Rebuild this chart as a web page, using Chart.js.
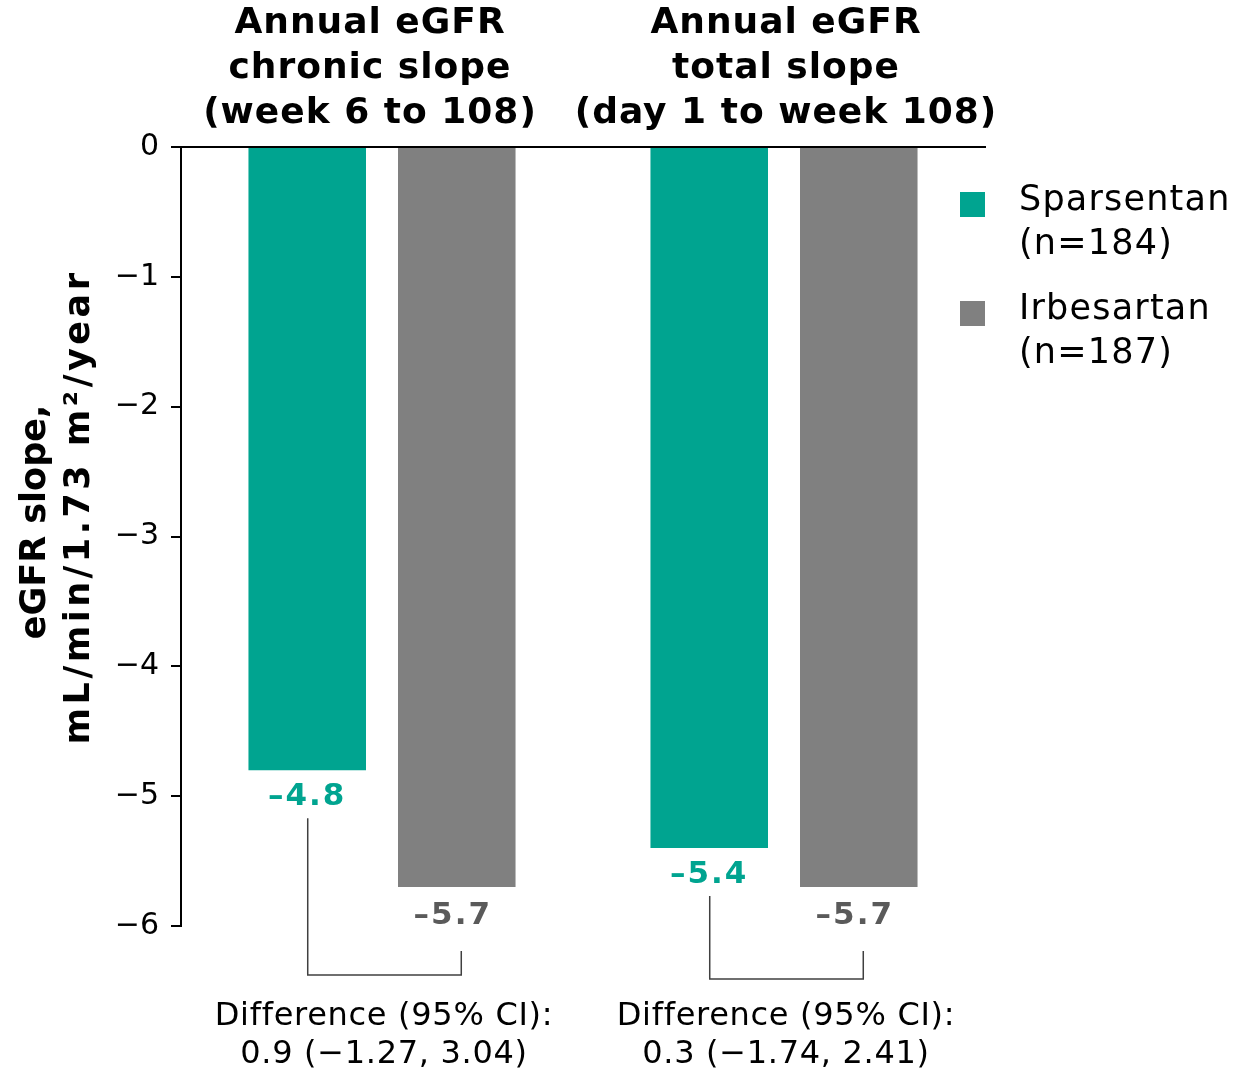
<!DOCTYPE html>
<html lang="en">
  <head>
    <meta charset="UTF-8" />
    <title>Annual eGFR slope</title>
    <script src="https://cdn.jsdelivr.net/npm/chart.js"></script>
    <style>
      html, body { margin: 0; padding: 0; background: #fff; }
      #wrap { width: 1235px; height: 1075px; position: relative; }
    </style>
  </head>
  <body>
    <div id="wrap"><canvas id="slopeChart"></canvas></div>
    <script>
      // data
      const categories = ["chronic", "total"];
      const groupTitles = [
        ["Annual eGFR", "chronic slope", "(week 6 to 108)"],
        ["Annual eGFR", "total slope", "(day 1 to week 108)"],
      ];
      const sparsentan = [-4.8, -5.4];
      const irbesartan = [-5.7, -5.7];
      const seriesNames = [["Sparsentan", "(n=184)"], ["Irbesartan", "(n=187)"]];
      const differences = [
        ["Difference (95% CI):", "0.9 (\u22121.27, 3.04)"],
        ["Difference (95% CI):", "0.3 (\u22121.74, 2.41)"],
      ];
      const yTitle = ["eGFR slope,", "mL/min/1.73 m\u00B2/year"];

      const TEAL = "#00a490";
      const GREY = "#808080";
      const GREY_TXT = "#5a5a5a";
      const FONT = "'DejaVu Sans', Verdana, sans-serif";

      const fmt = (v) => "\u2013" + Math.abs(v).toFixed(1);

      // everything the library doesn't draw itself
      const extras = {
        id: "extras",
        afterDatasetsDraw(chart) {
          const { ctx } = chart;
          const m0 = chart.getDatasetMeta(0).data;
          const m1 = chart.getDatasetMeta(1).data;
          ctx.save();
          ctx.textAlign = "center";
          ctx.textBaseline = "middle";

          // value labels
          ctx.font = "bold 31px " + FONT;
          ctx.letterSpacing = "2px";
          m0.forEach((b, i) => {
            ctx.fillStyle = TEAL;
            ctx.fillText(fmt(sparsentan[i]), b.x, b.y + 27);
          });
          m1.forEach((b, i) => {
            ctx.fillStyle = GREY_TXT;
            ctx.fillText(fmt(irbesartan[i]), b.x - 4, b.y + 29);
          });

          // brackets
          ctx.strokeStyle = "#404040";
          ctx.lineWidth = 1.5;
          m0.forEach((b, i) => {
            const b2 = m1[i];
            const yTop1 = b.y + 48;
            const yTop2 = b2.y + 64;
            const yBot = i === 0 ? 975 : 979;
            ctx.beginPath();
            ctx.moveTo(b.x + 0.5, yTop1);
            ctx.lineTo(b.x + 0.5, yBot);
            ctx.lineTo(b2.x + 4.5, yBot);
            ctx.lineTo(b2.x + 4.5, yTop2);
            ctx.stroke();
          });

          // difference text
          ctx.fillStyle = "#000";
          ctx.font = "32px " + FONT;
          ctx.letterSpacing = "0.7px";
          m0.forEach((b, i) => {
            const cx = (b.x + m1[i].x) / 2 + 2;
            ctx.fillText(differences[i][0], cx, 1017);
            ctx.fillText(differences[i][1], cx, 1055);
          });

          // group titles
          ctx.font = "bold 36px " + FONT;
          ctx.letterSpacing = "1px";
          m0.forEach((b, i) => {
            const cx = (b.x + m1[i].x) / 2 + (i === 0 ? -12 : 2);
            groupTitles[i].forEach((t, k) => ctx.fillText(t, cx, 24 + k * 45));
          });

          // y title
          ctx.save();
          ctx.translate(0, 507);
          ctx.rotate(-Math.PI / 2);
          ctx.font = "bold 35px " + FONT;
          ctx.letterSpacing = "0px";
          ctx.fillText(yTitle[0], -15, 36);
          ctx.letterSpacing = "3.5px";
          ctx.fillText(yTitle[1], 0, 80);
          ctx.restore();

          // legend
          const cols = [TEAL, GREY];
          ctx.textAlign = "left";
          ctx.font = "35px " + FONT;
          ctx.letterSpacing = "1.2px";
          seriesNames.forEach((s, k) => {
            const y0 = 192 + k * 109;
            ctx.fillStyle = cols[k];
            ctx.fillRect(960, y0, 25, 25);
            ctx.fillStyle = "#000";
            ctx.fillText(s[0], 1019, y0 + 9);
            ctx.fillText(s[1], 1019, y0 + 53);
          });
          ctx.restore();
        },
      };

      new Chart(document.getElementById("slopeChart"), {
        type: "bar",
        data: {
          labels: categories,
          datasets: [
            { label: "Sparsentan", data: sparsentan, backgroundColor: TEAL },
            { label: "Irbesartan", data: irbesartan, backgroundColor: GREY },
          ],
        },
        options: {
          responsive: true,
          maintainAspectRatio: false,
          animation: false,
          categoryPercentage: 0.744,
          barPercentage: 0.786,
          layout: { padding: { top: 147, right: 250, bottom: 149, left: 0 } },
          plugins: { legend: { display: false }, tooltip: { enabled: false } },
          scales: {
            x: {
              position: "top",
              grid: { display: false },
              ticks: { display: false },
              border: { display: true, color: "#000", width: 2 },
              afterFit: (s) => { s.height = 0; },
            },
            y: {
              min: -6,
              max: 0,
              ticks: {
                stepSize: 1,
                padding: 12,
                color: "#000",
                font: { family: FONT, size: 30 },
                callback: (v) => (v < 0 ? "\u2212" + Math.abs(v) : String(v)),
              },
              grid: {
                drawOnChartArea: false,
                drawTicks: true,
                tickLength: 10,
                color: "#000",
                lineWidth: 2,
              },
              border: { display: true, color: "#000", width: 2 },
              afterFit: (s) => { s.width = 181; },
            },
          },
        },
        plugins: [extras],
      });
    </script>
  </body>
</html>
